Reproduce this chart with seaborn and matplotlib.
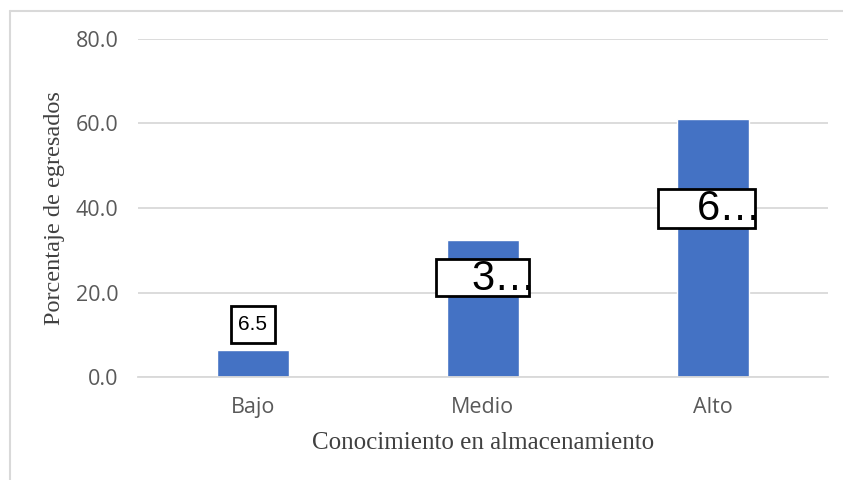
import seaborn as sns
import matplotlib.pyplot as plt
import pandas as pd
from matplotlib.patches import Rectangle
from matplotlib.lines import Line2D

# data
categorias = ["Bajo", "Medio", "Alto"]
porcentajes = [6.5, 32.5, 61.0]
etiquetas = ["6.5", "3\u2026", "6\u2026"]

# label boxes (center y in data units, box size in data units)
caja_y = [12.4, 23.5, 39.9]
caja_dx = [0.0, 0.0, -0.027]
caja_w = [0.19, 0.405, 0.42]
caja_h = [8.7, 8.7, 9.0]
caja_fs = [15, 30, 30]

df = pd.DataFrame({"Nivel": categorias, "Porcentaje": porcentajes})

sns.set_style("white")
fig = plt.figure(figsize=(8.43, 4.8), dpi=100)
ax = fig.add_axes([0.1637, 0.214, 0.8183, 0.705])

sns.barplot(data=df, x="Nivel", y="Porcentaje", color="#4472C4",
            width=0.312, saturation=1, ax=ax)

ax.set_ylim(0, 80)
ax.set_yticks([0, 20, 40, 60, 80])
ax.set_yticklabels([f"{v:.1f}" for v in [0, 20, 40, 60, 80]])
ax.yaxis.grid(True, color="#d9d9d9", linewidth=1.3)
ax.set_axisbelow(True)
for s in ["top", "right", "left"]:
    ax.spines[s].set_visible(False)
ax.spines["bottom"].set_color("#d9d9d9")
ax.spines["bottom"].set_linewidth(1.3)
ax.tick_params(axis="both", length=0, labelsize=15.5, labelcolor="#595959")
for lab in ax.get_xticklabels() + ax.get_yticklabels():
    lab.set_family("Open Sans")
ax.tick_params(axis="x", pad=14)
ax.tick_params(axis="y", pad=14)

ax.set_xlabel("Conocimiento en almacenamiento", family="Liberation Serif",
              fontsize=18, color="#404040", labelpad=10)
ax.set_ylabel("Porcentaje de egresados", family="Liberation Serif",
              fontsize=17.5, color="#404040", labelpad=8)

for i, (et, yc) in enumerate(zip(etiquetas, caja_y)):
    xc = i + caja_dx[i]
    w, h = caja_w[i], caja_h[i]
    ax.add_patch(Rectangle((xc - w / 2, yc - h / 2), w, h, facecolor="white",
                           edgecolor="black", linewidth=2, zorder=4))
    if i == 0:
        ax.text(xc, yc, et, ha="center", va="center", fontsize=caja_fs[i],
                family="Liberation Sans", color="black", zorder=5)
    else:
        ax.text(xc + w / 2 + 0.03, yc - 0.2, et, ha="right", va="center",
                fontsize=caja_fs[i], family="Liberation Sans", color="black",
                zorder=5)

# outer chart border (top and left visible)
fig.add_artist(Line2D([10 / 843, 10 / 843], [0, 1 - 11 / 480],
                      color="#d9d9d9", linewidth=1.5, transform=fig.transFigure))
fig.add_artist(Line2D([10 / 843, 1], [1 - 11 / 480, 1 - 11 / 480],
                      color="#d9d9d9", linewidth=1.5, transform=fig.transFigure))

fig.savefig("out.png", dpi=100)
